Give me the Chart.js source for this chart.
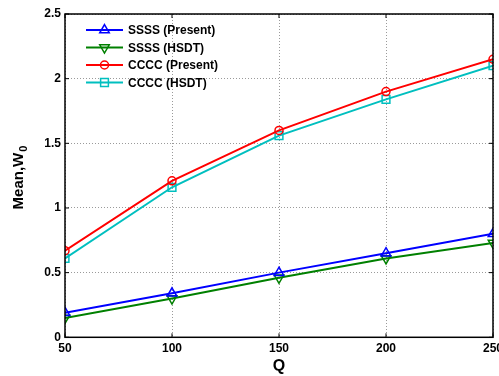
<!DOCTYPE html>
<html>
<head>
<meta charset="utf-8">
<script src="https://cdn.jsdelivr.net/npm/chart.js@4/dist/chart.umd.min.js"></script>
<style>
    html, body { margin: 0; padding: 0; background: #fff; overflow: hidden; }
    #wrap { width: 499px; height: 376px; overflow: hidden; }
</style>
</head>
<body>
<div id="wrap"><canvas id="chart" width="520" height="376"></canvas></div>
<script>
// Mean deflection vs Q for the two plate edge conditions
const qValues = [50, 100, 150, 200, 250];
const ssssPresent = [0.19, 0.34, 0.50, 0.65, 0.80];
const ssssHsdt = [0.15, 0.30, 0.46, 0.61, 0.73];
const ccccPresent = [0.67, 1.21, 1.60, 1.90, 2.15];
const ccccHsdt = [0.61, 1.16, 1.56, 1.84, 2.10];
const xTicks = [50, 100, 150, 200, 250];
const yTicks = [0, 0.5, 1, 1.5, 2, 2.5];

const FONT = 'Arial, "Liberation Sans", sans-serif';

function series(label, values, color, style, radius, rotation) {
    return {
        label: label,
        data: qValues.map((q, i) => ({ x: q, y: values[i] })),
        borderColor: color,
        borderWidth: 2,
        pointStyle: style,
        pointRotation: rotation || 0,
        pointRadius: radius,
        pointBorderWidth: 1.5,
        pointBackgroundColor: 'rgba(0,0,0,0)',
        pointBorderColor: color,
        tension: 0
    };
}

// frame, inward ticks, in-plot legend and axis titles
const decorations = {
    id: 'decorations',
    afterDraw(chart) {
        const ctx = chart.ctx;
        const a = chart.chartArea;
        const xs = chart.scales.x, ys = chart.scales.y;
        ctx.save();

        ctx.strokeStyle = '#000';
        ctx.lineWidth = 1.5;
        ctx.strokeRect(a.left, a.top, a.right - a.left, a.bottom - a.top);

        ctx.lineWidth = 1;
        ctx.beginPath();
        xTicks.forEach(t => {
            const px = xs.getPixelForValue(t);
            ctx.moveTo(px, a.bottom); ctx.lineTo(px, a.bottom - 4);
            ctx.moveTo(px, a.top); ctx.lineTo(px, a.top + 4);
        });
        yTicks.forEach(t => {
            const py = ys.getPixelForValue(t);
            ctx.moveTo(a.left, py); ctx.lineTo(a.left + 4, py);
            ctx.moveTo(a.right, py); ctx.lineTo(a.right - 4, py);
        });
        ctx.stroke();

        // legend
        const rowY = [30, 47.5, 65, 82.5];
        chart.data.datasets.forEach((ds, i) => {
            const y = rowY[i];
            ctx.strokeStyle = ds.borderColor;
            ctx.lineWidth = 2;
            ctx.beginPath();
            ctx.moveTo(86, y); ctx.lineTo(123, y);
            ctx.stroke();
            ctx.fillStyle = 'rgba(0,0,0,0)';
            ctx.lineWidth = 1.5;
            Chart.helpers.drawPoint(ctx, {
                pointStyle: ds.pointStyle,
                rotation: ds.pointRotation,
                radius: ds.pointRadius,
                borderWidth: 1.5
            }, 104.5, y);
            ctx.fillStyle = '#000';
            ctx.font = 'bold 12px ' + FONT;
            ctx.textAlign = 'left';
            ctx.textBaseline = 'middle';
            ctx.fillText(ds.label, 128, y + 1);
        });

        // x title
        ctx.fillStyle = '#000';
        ctx.font = 'bold 16px ' + FONT;
        ctx.textAlign = 'center';
        ctx.textBaseline = 'middle';
        ctx.fillText('Q', (a.left + a.right) / 2, 367);

        // y title with subscript
        ctx.translate(19, 178);
        ctx.rotate(-Math.PI / 2);
        ctx.font = 'bold 15px ' + FONT;
        const w1 = ctx.measureText('Mean,W').width;
        ctx.font = 'bold 11px ' + FONT;
        const w2 = ctx.measureText('0').width;
        const start = -(w1 + w2) / 2;
        ctx.textAlign = 'left';
        ctx.font = 'bold 15px ' + FONT;
        ctx.fillText('Mean,W', start, 0);
        ctx.font = 'bold 11px ' + FONT;
        ctx.fillText('0', start + w1 + 1, 5);

        ctx.restore();
    }
};

new Chart(document.getElementById('chart'), {
    type: 'line',
    data: {
        datasets: [
            series('SSSS (Present)', ssssPresent, '#0000ff', 'triangle', 5.5),
            series('SSSS (HSDT)', ssssHsdt, '#008000', 'triangle', 5.5, 180),
            series('CCCC (Present)', ccccPresent, '#ff0000', 'circle', 4),
            series('CCCC (HSDT)', ccccHsdt, '#00bfbf', 'rect', 5.5)
        ]
    },
    options: {
        responsive: false,
        animation: false,
        layout: { padding: { left: 0, top: 14, right: 27, bottom: 0 } },
        plugins: {
            legend: { display: false },
            tooltip: { enabled: false }
        },
        scales: {
            x: {
                type: 'linear',
                min: 50,
                max: 250,
                afterBuildTicks: s => { s.ticks = xTicks.map(v => ({ value: v })); },
                afterFit: s => { s.height = 38.7; },
                grid: { color: '#808080', lineWidth: 0.8, drawTicks: false },
                border: { display: false, dash: [1, 2] },
                ticks: {
                    padding: 4,
                    color: '#000',
                    font: { family: FONT, size: 12, weight: 'bold' },
                    maxRotation: 0,
                    callback: v => String(v)
                }
            },
            y: {
                min: 0,
                max: 2.5,
                afterBuildTicks: s => { s.ticks = yTicks.map(v => ({ value: v })); },
                afterFit: s => { s.width = 65; },
                grid: { color: '#808080', lineWidth: 0.8, drawTicks: false },
                border: { display: false, dash: [1, 2] },
                ticks: {
                    padding: 4,
                    color: '#000',
                    font: { family: FONT, size: 12, weight: 'bold' },
                    callback: v => String(v)
                }
            }
        }
    },
    plugins: [decorations]
});
</script>
</body>
</html>
